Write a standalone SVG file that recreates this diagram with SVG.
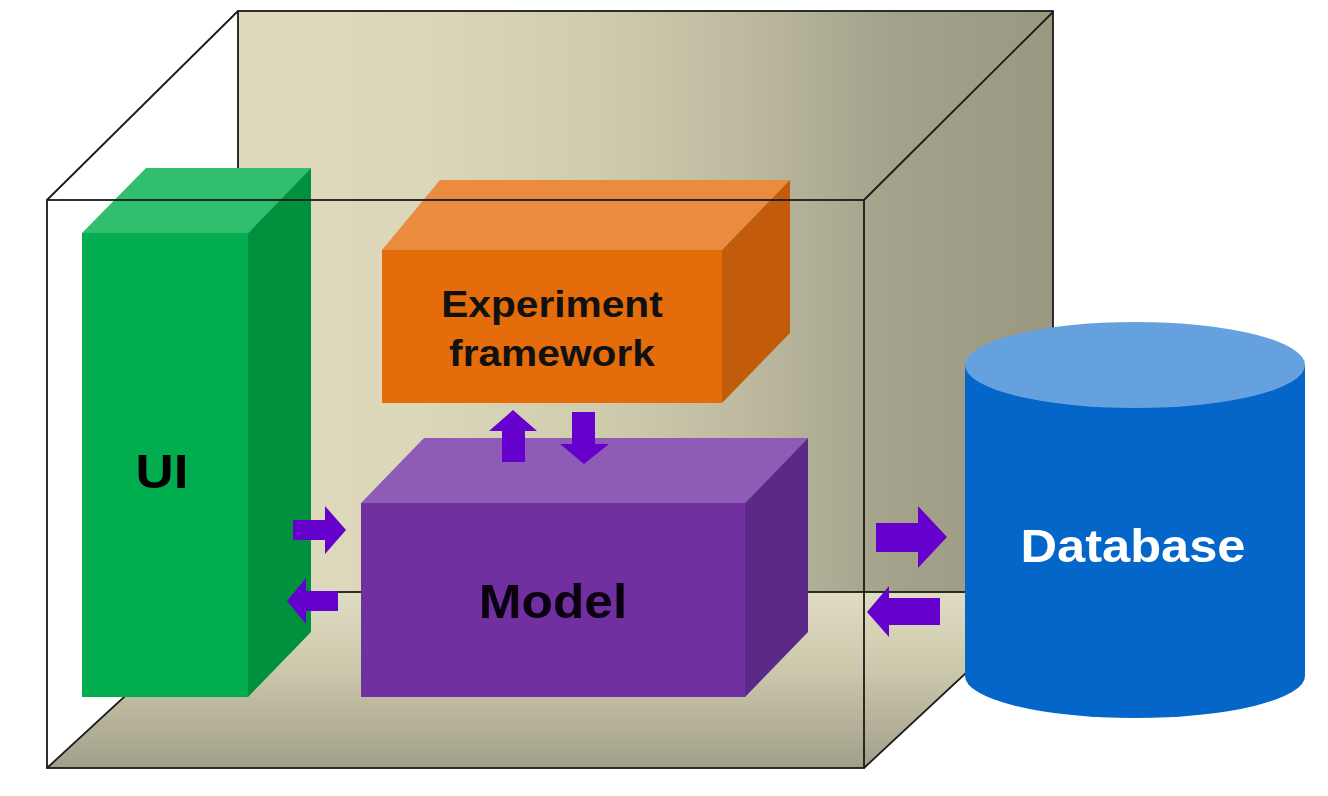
<svg xmlns="http://www.w3.org/2000/svg" width="1328" height="796" viewBox="0 0 1328 796">
  <defs>
    <linearGradient id="wallGrad" x1="0" y1="0" x2="1" y2="0">
      <stop offset="0" stop-color="#dedabb"/>
      <stop offset="0.22" stop-color="#dbd7b8"/>
      <stop offset="0.45" stop-color="#cfcbad"/>
      <stop offset="0.62" stop-color="#bdbaa0"/>
      <stop offset="0.8" stop-color="#a4a28b"/>
      <stop offset="1" stop-color="#9b9882"/>
    </linearGradient>
    <linearGradient id="floorGrad" x1="0" y1="0" x2="0" y2="1">
      <stop offset="0" stop-color="#e1ddc2"/>
      <stop offset="0.45" stop-color="#cbc7ab"/>
      <stop offset="1" stop-color="#a29f89"/>
    </linearGradient>
    <style>
      .edge { fill: none; stroke: #1a1a1a; stroke-width: 1.8; }
      .arrow { fill: #6600cc; }
      .label { font-family: "Liberation Sans", Arial, sans-serif; font-weight: bold; text-anchor: middle; }
    </style>
  </defs>
  <rect width="1328" height="796" fill="#ffffff"/>

  <g id="container">
    <rect x="238" y="11" width="815" height="581" fill="url(#wallGrad)"/>
    <polygon points="47,768 238,592 1053,592 864,768" fill="url(#floorGrad)"/>
    <rect x="238" y="11" width="815" height="581" class="edge"/>
    <line x1="47" y1="200" x2="238" y2="11" class="edge"/>
    <line x1="864" y1="200" x2="1053" y2="12" class="edge"/>
    <line x1="47" y1="768" x2="238" y2="592" class="edge"/>
    <line x1="864" y1="768" x2="1053" y2="592" class="edge"/>
  </g>

  <g id="ui">
    <polygon points="82,233 146,168 311,168 248,233" fill="#30bf6f"/>
    <polygon points="248,233 311,168 311,632 248,697" fill="#00913e"/>
    <rect x="82" y="233" width="166" height="464" fill="#02ad4f"/>
    <text class="label" x="162" y="488" font-size="48" fill="#000000" transform="translate(162 0) scale(1.1 1) translate(-162 0)">UI</text>
  </g>

  <g id="experiment-framework">
    <polygon points="382,250 440,180 790,180 722,250" fill="#ea8b3f"/>
    <polygon points="722,250 790,180 790,333 722,403" fill="#c25c0a"/>
    <rect x="382" y="250" width="340" height="153" fill="#e46c0b"/>
    <g transform="translate(552 0) scale(1.1 1) translate(-552 0)">
      <text class="label" x="552" y="317" font-size="37" fill="#111111">Experiment</text>
      <text class="label" x="552" y="366" font-size="37" fill="#111111">framework</text>
    </g>
  </g>

  <g id="model">
    <polygon points="361,503 424,438 808,438 745,503" fill="#8e5cb6"/>
    <polygon points="745,503 808,438 808,632 745,697" fill="#5b2a89"/>
    <rect x="361" y="503" width="384" height="194" fill="#7030a0"/>
    <text class="label" x="553" y="618" font-size="48" fill="#0a0010" transform="translate(553 0) scale(1.07 1) translate(-553 0)">Model</text>
  </g>

  <g id="database">
    <path d="M965,365 L965,676 A170,42 0 0 0 1305,676 L1305,365 Z" fill="#0566c9"/>
    <ellipse cx="1135" cy="365" rx="170" ry="43" fill="#65a1de"/>
    <text class="label" x="1133" y="562" font-size="46" fill="#ffffff" transform="translate(1133 0) scale(1.1 1) translate(-1133 0)">Database</text>
  </g>

  <g id="front-edges">
    <rect x="47" y="200" width="817" height="568" class="edge"/>
  </g>

  <g id="connectors">
    <!-- UI -> Model -->
    <polygon class="arrow" points="293,520 325,520 325,506 346,530 325,554 325,540 293,540"/>
    <!-- Model -> UI -->
    <polygon class="arrow" points="338,591 306,591 306,578 287,601 306,624 306,611 338,611"/>
    <!-- Model -> Experiment (up) -->
    <polygon class="arrow" points="502,462 502,431 489,431 513,410 537,431 525,431 525,462"/>
    <!-- Experiment -> Model (down) -->
    <polygon class="arrow" points="572,412 595,412 595,444 609,444 584,464 560,444 572,444"/>
    <!-- Model -> Database -->
    <polygon class="arrow" points="876,523 918,523 918,506 947,537 918,568 918,552 876,552"/>
    <!-- Database -> Model -->
    <polygon class="arrow" points="940,598 889,598 889,586 867,612 889,637 889,625 940,625"/>
  </g>
</svg>
